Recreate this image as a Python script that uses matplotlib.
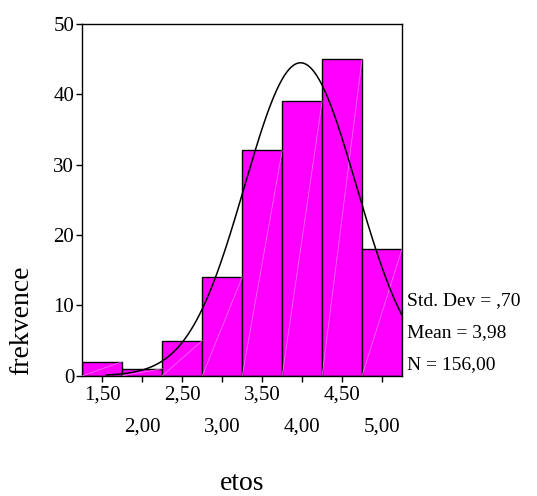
import numpy as np
import matplotlib
matplotlib.use("Agg")
import matplotlib.pyplot as plt

# histogram of "etos" (SPSS style)
bin_centers = [1.5, 2.0, 2.5, 3.0, 3.5, 4.0, 4.5, 5.0]
counts = [2, 1, 5, 14, 32, 39, 45, 18]
bin_width = 0.5
MEAN = 3.98
STD = 0.70
N = 156
major_ticks = [2.0, 3.0, 4.0, 5.0]
major_labels = ["2,00", "3,00", "4,00", "5,00"]
minor_ticks = [1.5, 2.5, 3.5, 4.5]
minor_labels = ["1,50", "2,50", "3,50", "4,50"]
y_ticks = [0, 10, 20, 30, 40, 50]
stats_text = ["Std. Dev = ,70", "Mean = 3,98", "N = 156,00"]

plt.rcParams['font.family'] = ['Liberation Serif', 'DejaVu Serif']

fig = plt.figure(figsize=(5.37, 4.96), dpi=100)
ax = fig.add_axes([0.1536, 0.2425, 0.595, 0.7097])

ax.bar(bin_centers, counts, width=bin_width, color='#ff00ff',
       edgecolor='black', linewidth=1.0, zorder=2)

# faint diagonal lines inside the bars
for c, h in zip(bin_centers, counts):
    ax.plot([c - bin_width / 2, c + bin_width / 2], [0, h],
            color='#ff7cff', linewidth=0.5, zorder=3)

# fitted normal curve
xs = np.linspace(1.55, 5.25, 300)
ys = N * bin_width / (STD * np.sqrt(2 * np.pi)) * np.exp(-0.5 * ((xs - MEAN) / STD) ** 2)
ax.plot(xs, ys, color='black', linewidth=1.1, zorder=4)

ax.set_xlim(1.25, 5.25)
ax.set_ylim(0, 50)

ax.set_yticks(y_ticks)
ax.set_yticklabels([str(v) for v in y_ticks])
ax.set_xticks(major_ticks)
ax.set_xticklabels(major_labels)
ax.set_xticks(minor_ticks, minor=True)
ax.set_xticklabels(minor_labels, minor=True)

ax.tick_params(axis='y', direction='out', length=4, width=1, labelsize=15, pad=2)
ax.tick_params(axis='x', which='major', direction='out', length=4, width=1,
               labelsize=15, pad=26)
ax.tick_params(axis='x', which='minor', direction='out', length=4, width=1,
               labelsize=15, pad=3)

for s in ax.spines.values():
    s.set_linewidth(1.0)

ax.set_ylabel("frekvence", fontsize=20)
ax.yaxis.set_label_coords(-0.15, 0.158)
ax.set_xlabel("etos", fontsize=20)
ax.xaxis.set_label_coords(0.5, -0.27)

for i, t in enumerate(stats_text):
    ax.text(1.015, 0.2 - i * 0.09, t, transform=ax.transAxes,
            fontsize=14, ha='left', va='baseline')

fig.savefig("out.png", dpi=100)
